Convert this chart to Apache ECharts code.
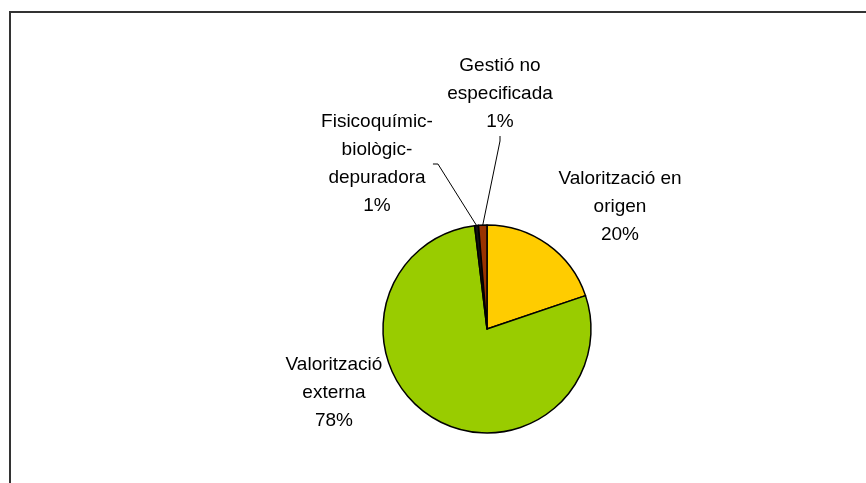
<!DOCTYPE html>
<html>
<head>
<meta charset="utf-8">
<script src="https://cdn.jsdelivr.net/npm/echarts@6/dist/echarts.min.js"></script>
<style>
  html, body { margin: 0; padding: 0; background: #fff; }
  #chart { width: 866px; height: 483px; }
</style>
</head>
<body>
<div id="chart"></div>
<script>
// categories and shares (%)
const categories = [
  'Valorització en\norigen',
  'Valorització\nexterna',
  'Fisicoquímic-\nbiològic-\ndepuradora',
  'Gestió no\nespecificada'
];
const shares = [19.8, 78.3, 0.6, 1.3];
const colors = ['#FFCC00', '#99CC00', '#111111', '#993300'];
const showLine = [false, false, true, true];

// where each label sits (centre of text block)
const labelPos = [[620, 207], [334, 393], [377, 164], [500, 94]];

const chart = echarts.init(document.getElementById('chart'));

chart.setOption({
  animation: false,
  graphic: [{
    type: 'polyline',
    shape: { points: [[10, 490], [10, 12], [870, 12]] },
    style: { stroke: '#333', lineWidth: 2, fill: null },
    silent: true
  }],
  series: [{
    type: 'pie',
    center: [487, 329],
    radius: 104,
    startAngle: 90,
    clockwise: true,
    avoidLabelOverlap: false,
    itemStyle: { borderColor: '#000', borderWidth: 1.5 },
    label: {
      show: true,
      formatter: p => p.name + '\n' + Math.round(p.percent) + '%',
      fontFamily: 'Liberation Sans, Arial, sans-serif',
      fontSize: 19,
      lineHeight: 28,
      color: '#000',
      align: 'center'
    },
    labelLine: {
      lineStyle: { color: '#000', width: 1 },
      length: 15,
      length2: 5
    },
    labelLayout: function (params) {
      const p = labelPos[params.dataIndex];
      return { x: p[0], y: p[1], align: 'center', verticalAlign: 'middle' };
    },
    data: categories.map((name, i) => ({
      name: name,
      value: shares[i],
      itemStyle: { color: colors[i] },
      labelLine: { show: showLine[i] }
    }))
  }]
});
</script>
</body>
</html>
